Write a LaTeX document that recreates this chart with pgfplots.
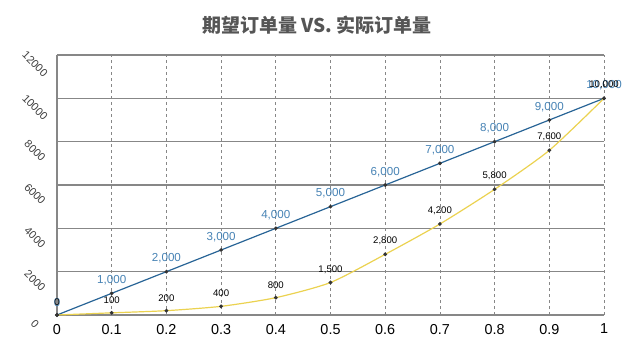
\documentclass[border=0pt]{standalone}
\usepackage{pgfplots}
\pgfplotsset{compat=1.18}
\usepackage{fontspec}
\setmainfont{Liberation Sans}
\newfontfamily\cjk{Noto Sans CJK SC}
\definecolor{gridgray}{RGB}{135,135,135}
\definecolor{blueline}{RGB}{40,100,150}
\definecolor{bluelab}{RGB}{70,130,180}
\definecolor{yellowline}{RGB}{235,210,80}
\definecolor{titlegray}{RGB}{85,85,85}
\begin{document}
\begin{tikzpicture}
\path[use as bounding box] (-28.5pt,-19pt) rectangle (291.5pt,157.5pt);
\begin{axis}[
  at={(0,0)}, anchor=south west,
  width=273.5pt, height=130pt, scale only axis,
  xmin=0, xmax=1, ymin=0, ymax=12000,
  scaled y ticks=false,
  xtick={0,0.1,0.2,0.3,0.4,0.5,0.6,0.7,0.8,0.9,1},
  xticklabels={0,0.1,0.2,0.3,0.4,0.5,0.6,0.7,0.8,0.9,1},
  ytick={0,2000,4000,6000,8000,10000,12000},
  yticklabels={0,2000,4000,6000,8000,10000,12000},
  axis lines=left,
  axis line style={-, gridgray, line width=0.8pt},
  major tick length=0pt,
  ymajorgrids, xmajorgrids,
  y grid style={gridgray, line width=0.8pt},
  x grid style={gridgray, dash pattern=on 1.5pt off 1.5pt, line width=0.35pt},
  xticklabel style={font=\fontsize{7.2}{8}\selectfont, text=black, yshift=-1pt},
  yticklabel style={font=\fontsize{5.5}{6}\selectfont, text=black!75, anchor=center, xshift=-11pt, yshift=-4.5pt, rotate=-45},
  clip=false,
]
\addplot[blueline, line width=0.6pt, mark=*, mark size=0.6pt, mark options={fill=black!80, draw=black!80},
  nodes near coords, point meta=explicit symbolic,
  every node near coord/.style={font=\fontsize{5.8}{6}\selectfont, text=bluelab, anchor=south, yshift=0.5pt}]
  table[meta=label] {
x y label
0 0 0
0.1 1000 1,000
0.2 2000 2,000
0.3 3000 3,000
0.4 4000 4,000
0.5 5000 5,000
0.6 6000 6,000
0.7 7000 7,000
0.8 8000 8,000
0.9 9000 9,000
1 10000 10,000
};
\addplot[yellowline, line width=0.6pt, smooth, tension=0.4, mark=*, mark size=0.6pt, mark options={fill=black!80, draw=black!80},
  nodes near coords, point meta=explicit symbolic,
  every node near coord/.style={font=\fontsize{4.8}{5}\selectfont, text=black, anchor=south, yshift=1pt}]
  table[meta=label] {
x y label
0 0 0
0.1 100 100
0.2 200 200
0.3 400 400
0.4 800 800
0.5 1500 1,500
0.6 2800 2,800
0.7 4200 4,200
0.8 5800 5,800
0.9 7600 7,600
1 10000 10,000
};
\end{axis}
\node[font=\cjk\bfseries\fontsize{9.5}{10}\selectfont, text=titlegray] at (130pt,145pt) {期望订单量 VS. 实际订单量};
\end{tikzpicture}
\end{document}
